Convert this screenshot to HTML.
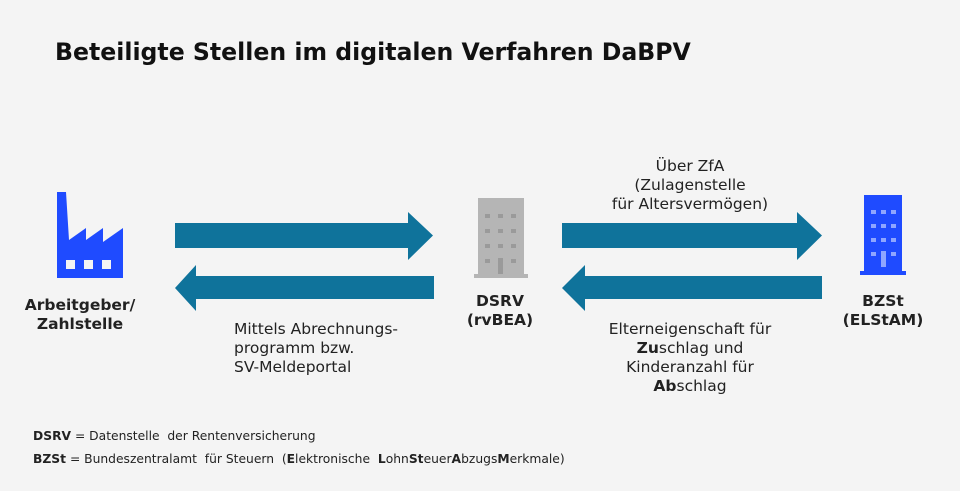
<!DOCTYPE html>
<html><head><meta charset="utf-8"><style>
body{margin:0;width:960px;height:491px;background:#f4f4f4;font-family:"DejaVu Sans","Liberation Sans",sans-serif;position:relative;overflow:hidden;color:#222}
.t{position:absolute;white-space:nowrap}
.c{text-align:center;font-size:15.5px;line-height:19px}
</style></head><body>
<div class="t" style="left:55px;top:38px;font-size:23.6px;font-weight:bold;color:#111">Beteiligte Stellen im digitalen Verfahren DaBPV</div>
<svg width="960" height="491" style="position:absolute;left:0;top:0">
<g fill="#0f739b">
<polygon points="175,223 408,223 408,212 433,235.5 408,260 408,248 175,248"/>
<polygon points="434,276 196,276 196,265 175,288 196,311 196,299 434,299"/>
<polygon points="562,223 797,223 797,212 822,235.5 797,260 797,248 562,248"/>
<polygon points="822,276 585,276 585,265 562,288 585,311 585,299 822,299"/>
</g>
<g fill="#1f4bff">
<polygon points="57,192 66,192 69,240 86,228 86,240 103,228 103,242 123,228 123,278 57,278"/>
</g>
<g fill="#f4f4f4"><rect x="66" y="260" width="9" height="9"/><rect x="84" y="260" width="9" height="9"/><rect x="102" y="260" width="9" height="9"/></g>
<path d="M478,198 h46 v76 h4 v4 h-54 v-4 h4z" fill="#b5b5b5"/>
<g fill="#9a9a9a"><rect x="485" y="214" width="5" height="4"/><rect x="498" y="214" width="5" height="4"/><rect x="511" y="214" width="5" height="4"/><rect x="485" y="229" width="5" height="4"/><rect x="498" y="229" width="5" height="4"/><rect x="511" y="229" width="5" height="4"/><rect x="485" y="244" width="5" height="4"/><rect x="498" y="244" width="5" height="4"/><rect x="511" y="244" width="5" height="4"/><rect x="485" y="259" width="5" height="4"/><rect x="498" y="258" width="5" height="16"/><rect x="511" y="259" width="5" height="4"/></g>
<path d="M864,195 h38 v76 h4 v4 h-46 v-4 h4z" fill="#1f4bff"/>
<g fill="#8fa6ff"><rect x="871" y="210" width="5" height="4"/><rect x="881" y="210" width="5" height="4"/><rect x="891" y="210" width="5" height="4"/><rect x="871" y="224" width="5" height="4"/><rect x="881" y="224" width="5" height="4"/><rect x="891" y="224" width="5" height="4"/><rect x="871" y="238" width="5" height="4"/><rect x="881" y="238" width="5" height="4"/><rect x="891" y="238" width="5" height="4"/><rect x="871" y="252" width="5" height="4"/><rect x="881" y="251" width="5" height="16"/><rect x="891" y="252" width="5" height="4"/></g>
</svg>
<div class="t c" style="left:20px;width:120px;top:296px;font-weight:bold">Arbeitgeber/<br>Zahlstelle</div>
<div class="t c" style="left:450px;width:100px;top:292px;font-weight:bold">DSRV<br>(rvBEA)</div>
<div class="t c" style="left:833px;width:100px;top:292px;font-weight:bold">BZSt<br>(ELStAM)</div>
<div class="t" style="left:234px;top:320px;font-size:15.5px;line-height:19px">Mittels Abrechnungs-<br>programm bzw.<br>SV-Meldeportal</div>
<div class="t c" style="left:590px;width:200px;top:157px">Über ZfA<br>(Zulagenstelle<br>für Altersvermögen)</div>
<div class="t c" style="left:590px;width:200px;top:320px">Elterneigenschaft für<br><b>Zu</b>schlag und<br>Kinderanzahl für<br><b>Ab</b>schlag</div>
<div class="t" style="left:33px;top:429px;font-size:12.3px"><b>DSRV</b> = Datenstelle&nbsp; der Rentenversicherung</div>
<div class="t" style="left:33px;top:452px;font-size:12.3px"><b>BZSt</b> = Bundeszentralamt&nbsp; für Steuern&nbsp; (<b>E</b>lektronische&nbsp; <b>L</b>ohn<b>St</b>euer<b>A</b>bzugs<b>M</b>erkmale)</div>
</body></html>
